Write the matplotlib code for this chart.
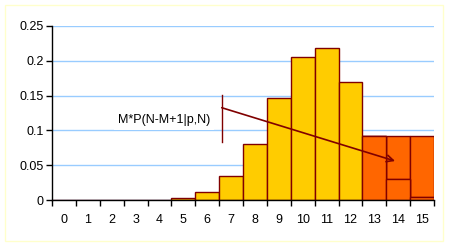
import numpy as np
import matplotlib.pyplot as plt
from matplotlib.patches import Rectangle

# ── Data ─────────────────────────────────────────────────────────────────────
categories = list(range(16))
probs = [0, 0, 0, 0, 0.0001, 0.0030, 0.0116, 0.0348, 0.0811, 0.1472,
         0.2061, 0.2186, 0.1700, 0.0916, 0.0305, 0.0047]
tail_cats = [13, 14, 15]
tail_vals = [0.0916, 0.0916, 0.0916]
yticks = [0, 0.05, 0.1, 0.15, 0.2, 0.25]
ytick_labels = ["0", "0.05", "0.1", "0.15", "0.2", "0.25"]
label_text = "M*P(N-M+1|p,N)"

# ── Style ────────────────────────────────────────────────────────────────────
YELLOW = "#FFCC00"
ORANGE = "#FF6600"
EDGE = "#800000"
GRID = "#99CCFF"
FS = 9
plt.rcParams["font.family"] = ["Liberation Sans", "DejaVu Sans"]

fig = plt.figure(figsize=(4.5, 2.47), dpi=100)
fig.patches.append(Rectangle((5 / 450, 6 / 247), 438 / 450, 236 / 247,
                             transform=fig.transFigure, fill=False,
                             edgecolor="#FFFFCC", linewidth=1))
ax = fig.add_axes([52 / 450, 1 - 200 / 247, 382 / 450, 174 / 247])

colors = [YELLOW if c < 13 else ORANGE for c in categories]
ax.bar(categories, probs, width=1.0, color=colors, edgecolor=EDGE,
       linewidth=1, zorder=3)
ax.bar(tail_cats, tail_vals, width=1.0, color=ORANGE, edgecolor=EDGE,
       linewidth=1, zorder=2)
ax.bar(tail_cats, probs[13:], width=1.0, color=ORANGE, edgecolor=EDGE,
       linewidth=1, zorder=2.5)

ax.set_xlim(-0.5, 15.5)
ax.set_ylim(0, 0.25)

ax.set_yticks(yticks)
ax.set_yticklabels(ytick_labels)
ax.yaxis.grid(True, color=GRID, linewidth=1, zorder=0)
ax.set_axisbelow(True)

# ticks at bin edges, labels at bin centres
ax.set_xticks(np.arange(-0.5, 16, 1))
ax.set_xticklabels([])
ax.set_xticks(categories, minor=True)
ax.set_xticklabels([str(c) for c in categories], minor=True)
ax.tick_params(axis="x", which="minor", length=0, pad=10, labelsize=FS)
ax.tick_params(axis="x", which="major", length=4, width=1, direction="out")
ax.tick_params(axis="y", length=4, width=1, direction="out", pad=2, labelsize=FS)

for side in ["top", "right"]:
    ax.spines[side].set_visible(False)
for side in ["left", "bottom"]:
    ax.spines[side].set_linewidth(1)
    ax.spines[side].set_zorder(5)

# ── Annotation ───────────────────────────────────────────────────────────────
ax.text(4.19, 0.115, label_text, ha="center", va="center", fontsize=FS,
        bbox=dict(facecolor="white", edgecolor="none", pad=3), zorder=4)
ax.plot([6.61, 6.61], [0.084, 0.151], color=EDGE, linewidth=1, zorder=6)
ax.annotate("", xy=(13.87, 0.056), xytext=(6.61, 0.1326),
            arrowprops=dict(arrowstyle="->", color=EDGE, lw=1.2,
                            shrinkA=0, shrinkB=0, mutation_scale=12),
            zorder=6)

fig.savefig("out.png", dpi=100)
